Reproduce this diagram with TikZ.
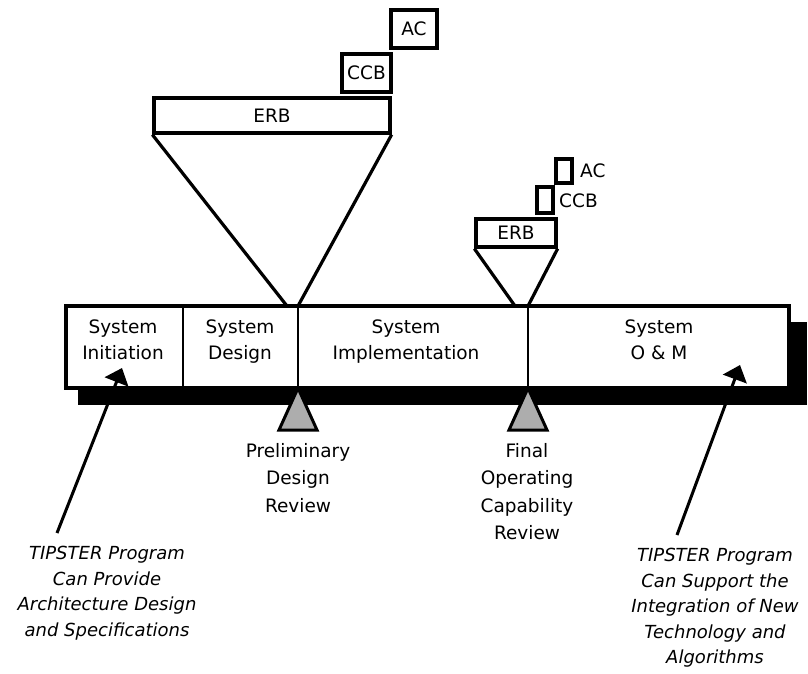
\documentclass[tikz,border=0pt]{standalone}
\usepackage{fontspec}
\setmainfont{DejaVu Sans}
\usetikzlibrary{arrows.meta}
\begin{document}
\begin{tikzpicture}[x=1pt,y=-1pt,
  box/.style={draw,line width=3.3pt,fill=white,inner sep=0pt,font=\fontsize{18.5}{20}\selectfont},
  lbl/.style={inner sep=0pt,font=\fontsize{18.5}{20}\selectfont},
  phase/.style={inner sep=0pt,align=center,anchor=north,font=\fontsize{18.5}{26}\selectfont},
  review/.style={inner sep=0pt,align=center,anchor=north,font=\fontsize{18.5}{27.5}\selectfont},
  note/.style={inner sep=0pt,align=center,anchor=north,font=\fontsize{18}{25.5}\selectfont\itshape},
  funnel/.style={line width=3.2pt},
  divider/.style={line width=2.4pt},
  milestone/.style={draw,line width=3pt,fill=black!32,line join=miter},
  pointer/.style={line width=3pt,-{Triangle[width=25pt,length=15pt]}}]
\useasboundingbox (0,0) rectangle (808,673);

% board boxes (large)
\node[box,minimum width=236pt,minimum height=35pt] (erb1) at (272,115.5) {ERB};
\node[box,minimum width=49pt,minimum height=38pt] (ccb1) at (366.5,73) {CCB};
\node[box,minimum width=46pt,minimum height=38pt] (ac1) at (414,29) {AC};

% board boxes (small)
\node[box,minimum width=80pt,minimum height=28pt] (erb2) at (516,233) {ERB};
\node[box,minimum width=16pt,minimum height=26pt] (ccb2) at (545,200) {};
\node[lbl,anchor=west] (ccb2l) at (559,201) {CCB};
\node[box,minimum width=16pt,minimum height=24pt] (ac2) at (564,171) {};
\node[lbl,anchor=west] (ac2l) at (580,171) {AC};

% shadow and bar
\fill[black] (78,322) rectangle (807,405);
\node[draw,line width=3.3pt,fill=white,inner sep=0pt,minimum width=723pt,minimum height=82pt] (bar) at (427.5,347) {};

% divider coordinates
\coordinate (d1t) at (183,306); \coordinate (d1b) at (183,388);
\coordinate (d2t) at (298,306); \coordinate (d2b) at (298,388);
\coordinate (d3t) at (528,306); \coordinate (d3b) at (528,388);
\coordinate (f1l) at (287,306);
\coordinate (f2l) at (515,306);

\draw[divider] (d1t) -- (d1b);
\draw[divider] (d2t) -- (d2b);
\draw[divider] (d3t) -- (d3b);

% funnels
\draw[funnel] (erb1.south west) -- (f1l);
\draw[funnel] (erb1.south east) -- (d2t);
\draw[funnel] (erb2.south west) -- (f2l);
\draw[funnel] (erb2.south east) -- (d3t);

% phase labels
\node[phase] (p1) at (123,320) {System\\Initiation};
\node[phase] (p2) at (240,320) {System\\Design};
\node[phase] (p3) at (406,320) {System\\Implementation};
\node[phase] (p4) at (659,320) {System\\O \& M};

% milestones
\draw[milestone] (d2b) -- ++(-19,42) -- ++(38,0) -- cycle;
\draw[milestone] (d3b) -- ++(-19,42) -- ++(38,0) -- cycle;

\node[review] (r1) at (298,443) {Preliminary\\Design\\Review};
\node[review] (r2) at (527,443) {Final\\Operating\\Capability\\Review};

% notes and pointers
\node[note] (n1) at (107,546) {TIPSTER Program\\Can Provide\\Architecture Design\\and Specifications};
\node[note] (n2) at (715,548) {TIPSTER Program\\Can Support the\\Integration of New\\Technology and\\Algorithms};

\coordinate (a1t) at (57,533);
\coordinate (a1h) at (122,368);
\coordinate (a2t) at (677,535);
\coordinate (a2h) at (740,365);
\draw[pointer] (a1t) -- (a1h);
\draw[pointer] (a2t) -- (a2h);
\end{tikzpicture}
\end{document}
